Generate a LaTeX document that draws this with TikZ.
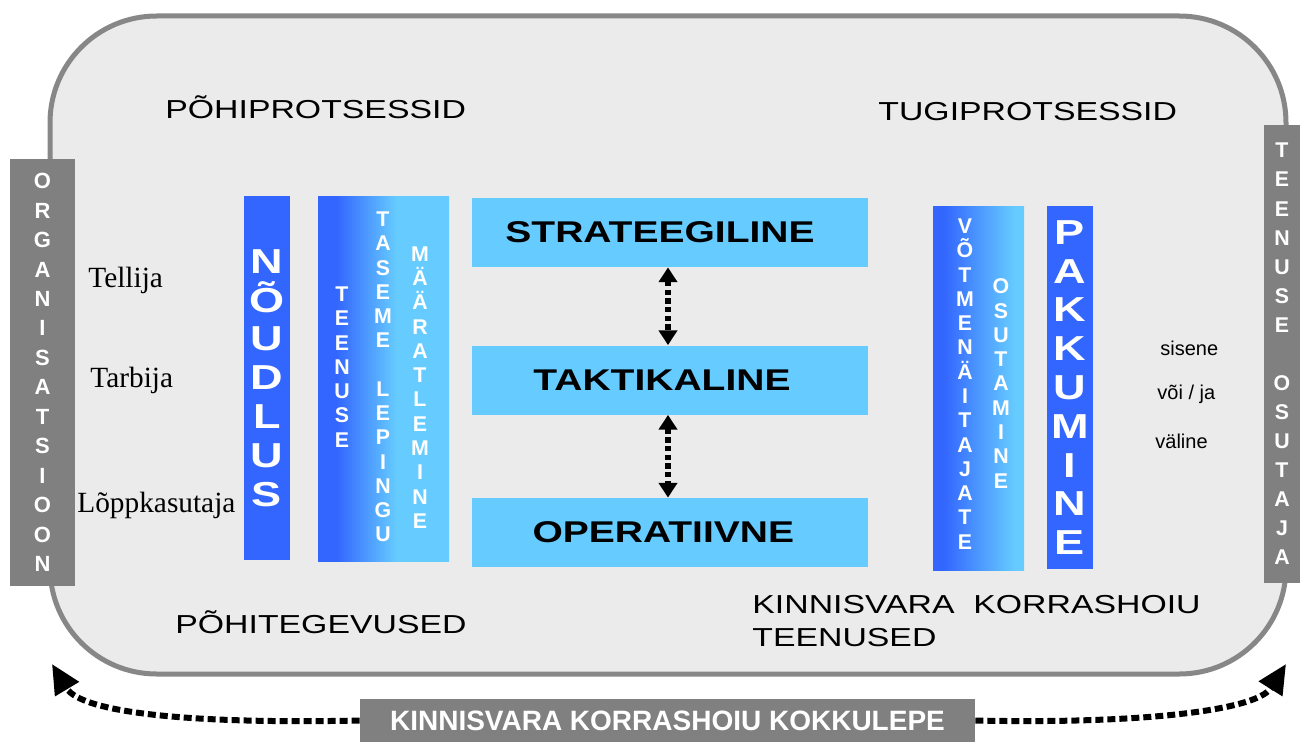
\documentclass[tikz,border=0pt]{standalone}
\usepackage{fontspec}
\setmainfont{Liberation Serif}
\setsansfont{Liberation Sans}
\newfontfamily\widesans[FakeStretch=1.3]{Liberation Sans}
\usetikzlibrary{arrows.meta}

\definecolor{nblue}{HTML}{3366FF}
\definecolor{lblue}{HTML}{66CCFF}
\definecolor{bargray}{HTML}{808080}
\definecolor{boxgray}{HTML}{EBEBEB}
\definecolor{rimgray}{HTML}{878787}

\pgfdeclarehorizontalshading{tlgrad}{100bp}{color(0bp)=(nblue); color(32bp)=(nblue); color(55bp)=(lblue); color(100bp)=(lblue)}
\pgfdeclarehorizontalshading{vngrad}{100bp}{color(0bp)=(nblue); color(31bp)=(nblue); color(70bp)=(lblue); color(100bp)=(lblue)}

\begin{document}
\begin{tikzpicture}[x=0.75pt, y=-0.75pt, line width = 0.6pt]
\tikzstyle{every node}=[inner sep=0pt];
\tikzstyle{sidebar}=[fill=bargray, text=white, align=center, font=\sffamily\bfseries\fontsize{16.5}{22.1}\selectfont];
\tikzstyle{bigbar}=[fill=nblue, text=white, align=center, minimum width=34.5pt, font=\widesans\bfseries\fontsize{26}{29.1}\selectfont];
\tikzstyle{vcol}=[text=white, align=center, font=\sffamily\bfseries\fontsize{16}{18.2}\selectfont];
\tikzstyle{lvlbox}=[fill=lblue, minimum width=297pt, minimum height=51.75pt, font=\widesans\bfseries\fontsize{22.5}{26}\selectfont];
\tikzstyle{head}=[anchor=west, font=\widesans\fontsize{19.5}{24.75}\selectfont];
\tikzstyle{who}=[anchor=west, font=\fontsize{22}{26}\selectfont];
\tikzstyle{where}=[anchor=west, font=\sffamily\fontsize{15}{18}\selectfont];
\tikzstyle{lvlarr}=[line width=4pt, dash pattern=on 4pt off 2.5pt, {Triangle[length=11pt,width=13.5pt]}-{Triangle[length=11pt,width=13.5pt]}];
\tikzstyle{curvarr}=[line width=4.5pt, dash pattern=on 6pt off 3pt, -{Triangle[length=22pt,width=20pt]}];

\useasboundingbox (0,0) rectangle (1300,742);

% outer frame
\draw[fill=boxgray, draw=rimgray, line width=3.75pt, rounded corners=80pt] (50,16) rectangle (1286,674);

% side bars
\draw(42.5,372.5) node[sidebar, minimum width=48.75pt, minimum height=320.25pt] (org) {O\\R\\G\\A\\N\\I\\S\\A\\T\\S\\I\\O\\O\\N};
\draw(1282,354) node[sidebar, minimum width=27pt, minimum height=343.5pt, font=\sffamily\bfseries\fontsize{16}{21.8}\selectfont] (osutaja) {T\\E\\E\\N\\U\\S\\E\\ \\O\\S\\U\\T\\A\\J\\A};

% left columns
\draw(267,378) node[bigbar, minimum height=273pt] (noudlus) {N\\Õ\\U\\D\\L\\U\\S};
\shade[shading=tlgrad] (318,196) rectangle (449,561);
\draw(342,367) node[vcol] (teenuse) {T\\E\\E\\N\\U\\S\\E};
\draw(383,377) node[vcol] (leping) {T\\A\\S\\E\\M\\E\\ \\L\\E\\P\\I\\N\\G\\U};
\draw(420,387.5) node[vcol] (maarat) {M\\Ä\\Ä\\R\\A\\T\\L\\E\\M\\I\\N\\E};

% levels
\draw(670,232.5) node[lvlbox] (strat) {\kern-15pt STRATEEGILINE};
\draw(670,380) node[lvlbox] (takt) {\kern-12pt TAKTIKALINE};
\draw(670,532.5) node[lvlbox] (oper) {\kern-10pt OPERATIIVNE};

\draw[lvlarr] ([xshift=-1.5pt]strat.south) -- ([xshift=-1.5pt]takt.north);
\draw[lvlarr] ([xshift=-1.5pt]takt.south) -- ([xshift=-1.5pt]oper.north);

% right columns
\shade[shading=vngrad] (933,206) rectangle (1024,570);
\draw(965,384) node[vcol] (votme) {V\\Õ\\T\\M\\E\\N\\Ä\\I\\T\\A\\J\\A\\T\\E};
\draw(1001,383.5) node[vcol] (osut) {O\\S\\U\\T\\A\\M\\I\\N\\E};
\draw(1070,387.5) node[bigbar, minimum height=272.25pt] (pakk) {P\\A\\K\\K\\U\\M\\I\\N\\E};

% texts
\draw(165,107) node[head] (pohi) {PÕHIPROTSESSID};
\draw(878,112) node[head] (tugi) {TUGIPROTSESSID};
\draw(175,622) node[head] (tegev) {PÕHITEGEVUSED};
\draw(752,621) node[head, align=left] (kteen) {KINNISVARA~~KORRASHOIU\\TEENUSED};

\draw(88,280) node[who] (tellija) {Tellija};
\draw(90,380) node[who] (tarbija) {Tarbija};
\draw(77,505) node[who] (lopp) {Lõppkasutaja};

\draw(1160,348) node[where] (sisene) {sisene};
\draw(1157,394) node[where] (voi) {või / ja};
\draw(1155,441) node[where] (valine) {väline};

% agreement
\draw(667.5,720.5) node[fill=bargray, text=white, minimum width=461.25pt, minimum height=32.25pt, font=\sffamily\bfseries\fontsize{21}{24}\selectfont] (kokku) {KINNISVARA KORRASHOIU KOKKULEPE};
\coordinate (ltip) at (52,664);
\coordinate (rtip) at (1286,664);
\draw[curvarr] (kokku.west) .. controls (200,724) and (82,714) .. (ltip);
\draw[curvarr] (kokku.east) .. controls (1130,724) and (1256,712) .. (rtip);
\end{tikzpicture}
\end{document}
